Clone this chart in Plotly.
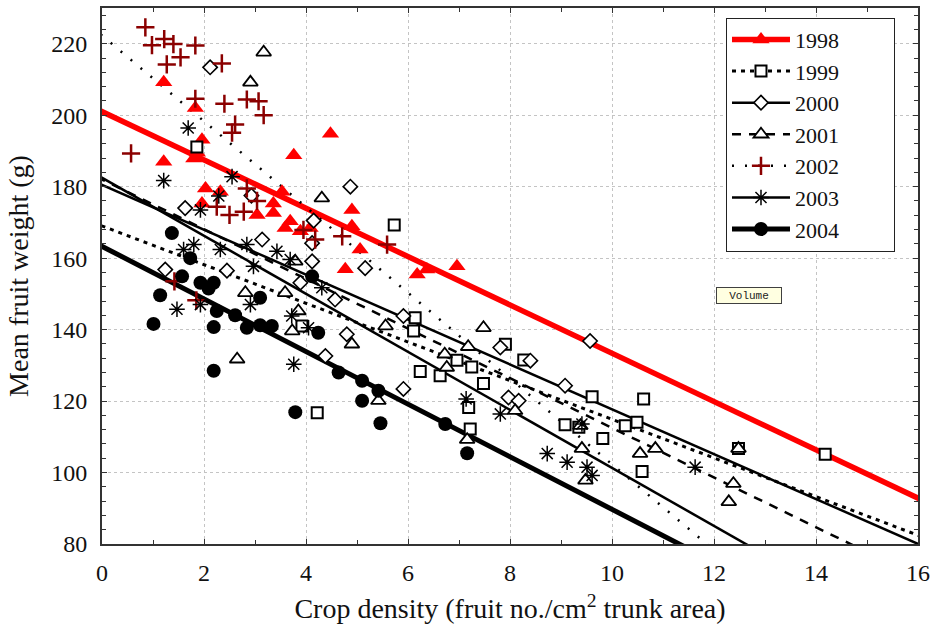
import plotly.graph_objects as go

# Observed mean fruit weight (g) against crop density (fruit no./cm2 trunk area)
x_1998 = [1.21, 1.21, 1.83, 1.96, 1.87, 1.80, 2.03, 2.32, 1.96, 3.04, 3.36, 3.53, 3.36,
          3.69, 3.59, 3.89, 4.08, 3.76, 4.48, 4.77, 4.90, 4.90, 5.06, 6.18, 6.37, 6.96]
y_1998 = [209.2, 187.0, 202.0, 193.1, 189.5, 187.9, 179.5, 178.6, 175.3, 172.1, 175.3, 178.6, 172.6,
          170.3, 168.4, 167.5, 168.4, 188.8, 194.8, 156.9, 173.5, 168.9, 162.4, 155.4, 156.8, 157.7]

x_1999 = [1.86, 3.92, 4.22, 5.73, 6.14, 6.11, 7.91, 6.96, 6.24, 6.63, 7.48, 7.19, 7.22,
          8.27, 9.61, 9.08, 9.35, 9.82, 10.62, 10.49, 10.26, 10.59, 12.48, 14.18, 7.25]
y_1999 = [191.1, 141.0, 116.7, 169.3, 143.3, 139.6, 135.9, 131.4, 128.3, 127.1, 124.9, 118.2, 112.2,
          131.5, 121.2, 113.4, 112.7, 109.5, 120.6, 114.1, 113.1, 100.3, 106.7, 105.1, 129.5]

x_2000 = [2.12, 1.63, 2.93, 3.14, 4.15, 4.12, 4.12, 1.24, 2.45, 3.89, 4.87, 5.16, 4.57,
          4.80, 4.38, 5.91, 5.91, 7.81, 8.40, 9.08, 7.97, 8.17, 9.57]
y_2000 = [213.4, 174.0, 177.5, 165.2, 170.5, 164.2, 159.1, 156.8, 156.5, 153.1, 180.0, 157.2, 148.4,
          138.7, 132.6, 123.4, 143.8, 135.0, 131.3, 124.3, 121.0, 120.1, 136.8]

x_2001 = [3.17, 2.91, 4.31, 2.65, 2.81, 3.59, 3.85, 3.73, 3.79, 7.48, 7.18, 5.56, 4.90,
          6.72, 6.76, 5.42, 8.10, 9.38, 7.16, 9.41, 9.48, 10.55, 10.85, 12.38, 12.29, 12.48]
y_2001 = [217.6, 209.2, 176.8, 131.7, 150.3, 150.3, 145.2, 139.6, 159.1, 140.5, 135.2, 141.0, 135.9,
          133.1, 129.4, 120.1, 117.3, 113.1, 109.2, 106.7, 97.8, 105.3, 106.7, 96.9, 91.8, 106.7]

x_2002 = [0.85, 0.98, 1.22, 1.40, 1.54, 1.27, 1.83, 2.35, 1.83, 2.40, 2.84, 3.07, 3.17, 2.61,
          2.55, 0.57, 2.84, 3.04, 2.78, 2.50, 2.25, 3.95, 4.18, 4.71, 5.59, 1.42, 1.85]
y_2002 = [224.6, 219.6, 221.3, 219.9, 216.2, 214.2, 219.5, 214.5, 204.6, 203.2, 204.4, 203.9, 200.0, 197.4,
          195.1, 189.3, 179.5, 176.0, 173.0, 172.1, 174.4, 167.9, 165.2, 166.1, 163.8, 153.5, 148.2]

x_2003 = [1.69, 1.21, 2.55, 2.29, 1.93, 1.60, 1.80, 2.32, 2.84, 3.43, 3.69, 2.97, 1.47, 1.93,
          2.91, 3.76, 3.72, 4.31, 4.05, 7.14, 7.81, 8.73, 9.12, 9.41, 9.51, 9.61, 11.63]
y_2003 = [196.4, 181.7, 182.8, 177.4, 173.5, 162.4, 163.8, 162.4, 163.8, 161.9, 159.6, 157.7, 145.7, 147.0,
          147.0, 130.3, 143.8, 151.7, 140.5, 120.6, 116.4, 105.3, 102.9, 113.6, 101.5, 99.2, 101.5]

x_2004 = [1.37, 1.73, 1.57, 1.14, 1.01, 1.93, 2.19, 2.09, 2.25, 2.19, 2.19, 2.61, 2.84,
          3.10, 3.10, 3.33, 3.79, 4.12, 4.24, 4.64, 5.10, 5.42, 5.10, 5.46, 6.73, 7.16]
y_2004 = [167.0, 160.0, 154.9, 149.6, 141.6, 153.1, 153.1, 151.5, 145.2, 140.7, 128.5, 144.0, 140.5,
          148.9, 141.2, 141.0, 116.9, 154.9, 139.1, 128.0, 125.7, 122.9, 120.1, 113.8, 113.6, 105.4]

# Fitted linear regressions per season: weight = intercept + slope * density
years = ["1998", "1999", "2000", "2001", "2002", "2003", "2004"]
intercepts = [201.0, 169.0, 180.5, 182.0, 222.3, 182.5, 163.3]
slopes = [-6.76, -5.41, -6.28, -6.95, -12.0, -8.12, -7.36]

xs = [x_1998, x_1999, x_2000, x_2001, x_2002, x_2003, x_2004]
ys = [y_1998, y_1999, y_2000, y_2001, y_2002, y_2003, y_2004]

RED = "#ff0000"
MAROON = "#8b0000"
BLACK = "#000000"

marker_styles = [
    dict(symbol="triangle-up", size=15, color=RED, line=dict(width=0)),
    dict(symbol="square", size=11, color="white", line=dict(color=BLACK, width=2)),
    dict(symbol="diamond", size=11, color="white", line=dict(color=BLACK, width=1.6)),
    dict(symbol="triangle-up", size=13, color="white", line=dict(color=BLACK, width=1.8)),
    dict(symbol="cross-thin-open", size=13, color=MAROON, line=dict(color=MAROON, width=2.5)),
    dict(symbol="asterisk-open", size=13, color=BLACK, line=dict(color=BLACK, width=1.5)),
    dict(symbol="circle", size=14, color=BLACK, line=dict(width=0)),
]
line_styles = [
    dict(color=RED, width=5.5),
    dict(color=BLACK, width=3, dash="4px,5px"),
    dict(color=BLACK, width=2.5),
    dict(color=BLACK, width=2.5, dash="9px,8px"),
    dict(color=BLACK, width=2.5, dash="2px,11px"),
    dict(color=BLACK, width=2.5),
    dict(color=BLACK, width=5),
]

X_MIN, X_MAX = 0, 16
Y_MIN, Y_MAX = 80, 230

fig = go.Figure()

# Regression lines; the span reaches past the axes so the markers on these
# traces fall outside the plot (clipped) and only show in the legend.
span = [X_MIN - 1, X_MAX + 1]
PAD = "\u00a0" * 9  # keeps the legend box as wide as the framed key
for i, yr in enumerate(years):
    fig.add_trace(go.Scatter(
        x=span,
        y=[intercepts[i] + slopes[i] * v for v in span],
        mode="lines+markers",
        line=line_styles[i],
        marker=marker_styles[i],
        name=yr + PAD,
        legendgroup=yr,
        cliponaxis=True,
        hoverinfo="skip",
    ))

# Observations
for i, yr in enumerate(years):
    fig.add_trace(go.Scatter(
        x=xs[i], y=ys[i],
        mode="markers",
        marker=marker_styles[i],
        name=yr,
        legendgroup=yr,
        showlegend=False,
        cliponaxis=True,
    ))

FONT = "Liberation Serif, Times New Roman, serif"
GRID = "#c4c4c4"
AXIS = "#333333"

fig.update_layout(
    width=941, height=631,
    margin=dict(l=102, r=23, t=6, b=87),
    paper_bgcolor="white",
    plot_bgcolor="white",
    font=dict(family=FONT, color="#111111", size=24),
    showlegend=True,
    legend=dict(
        x=0.7647, y=0.982, xanchor="left", yanchor="top",
        bgcolor="white", bordercolor="#222222", borderwidth=1,
        font=dict(family=FONT, size=22, color="#111111"),
        itemwidth=58,
        tracegroupgap=0,
    ),
    annotations=[dict(
        x=12.69, y=149.6, xref="x", yref="y",
        text="Volume", showarrow=False,
        font=dict(family="Liberation Mono, Courier New, monospace", size=11, color="#222222"),
        bgcolor="#ffffe1", bordercolor="#404040", borderwidth=1, borderpad=1,
        width=62, height=13,
    )],
)

fig.update_xaxes(
    range=[X_MIN, X_MAX], dtick=2, tick0=0,
    showgrid=True, gridcolor=GRID, griddash="dot", gridwidth=1,
    zeroline=False,
    showline=True, linecolor=AXIS, linewidth=2, mirror="allticks",
    ticks="inside", ticklen=5, tickwidth=1, tickcolor=AXIS,
    minor=dict(dtick=1, ticks="inside", ticklen=4, tickcolor=AXIS, showgrid=False),
    tickfont=dict(family=FONT, size=24, color="#111111"),
    ticklabelstandoff=6,
    title=dict(text="Crop density (fruit no./cm<sup>2</sup> trunk area)",
               font=dict(family=FONT, size=28, color="#111111"), standoff=14),
)
fig.update_yaxes(
    range=[Y_MIN, Y_MAX], dtick=20, tick0=0,
    showgrid=True, gridcolor=GRID, griddash="dot", gridwidth=1,
    zeroline=False,
    showline=True, linecolor=AXIS, linewidth=2, mirror="allticks",
    ticks="inside", ticklen=5, tickwidth=1, tickcolor=AXIS,
    minor=dict(dtick=4, ticks="inside", ticklen=4, tickcolor=AXIS, showgrid=False),
    tickfont=dict(family=FONT, size=24, color="#111111"),
    ticklabelstandoff=8,
    title=dict(text="Mean fruit weight (g)",
               font=dict(family=FONT, size=28, color="#111111"), standoff=14),
)

fig.write_html("out.html")
